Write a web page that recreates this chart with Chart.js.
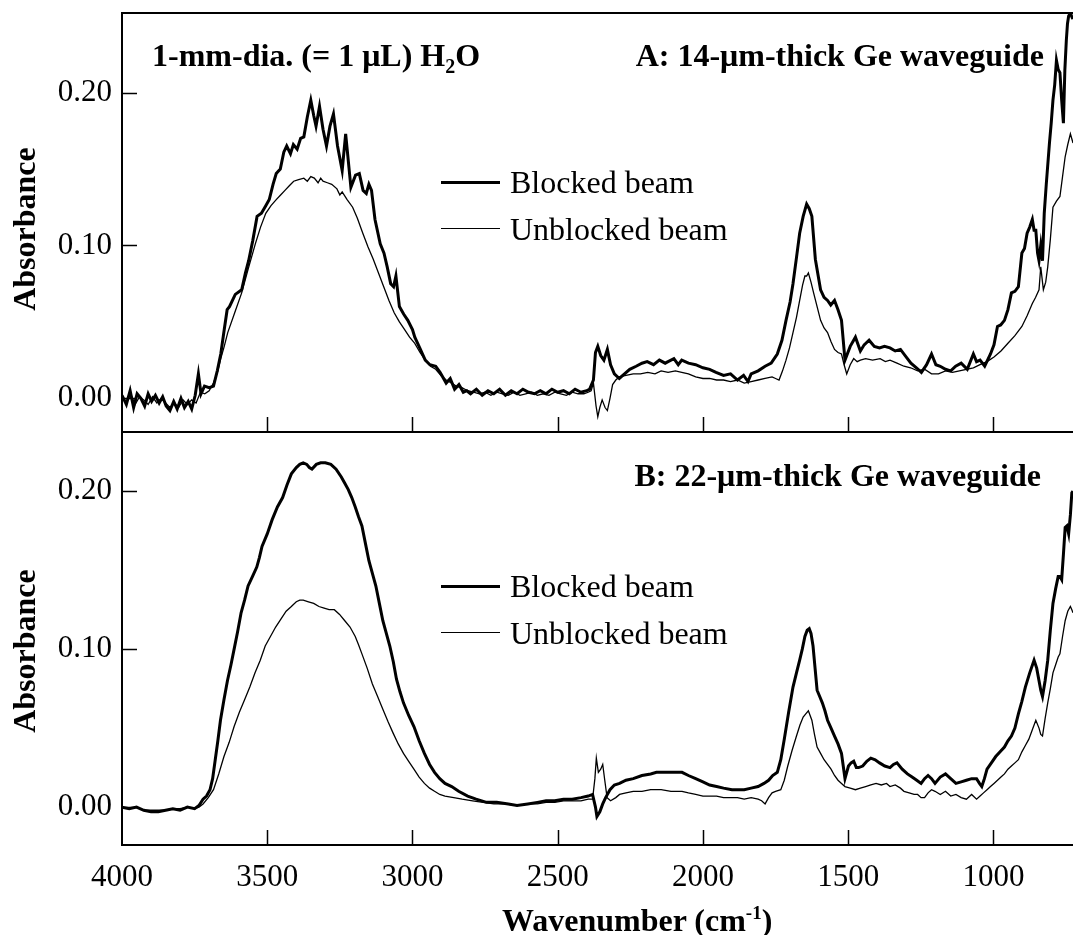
<!DOCTYPE html>
<html>
<head>
<meta charset="utf-8">
<script src="https://cdn.jsdelivr.net/npm/chart.js@4.4.0/dist/chart.umd.min.js"></script>
<style>
  body { margin: 0; background: #fff; }
  #wrap { position: relative; width: 1073px; height: 935px; overflow: hidden; background: #fff;
          font-family: "Liberation Serif", "Times New Roman", serif; color: #000; }
  canvas { position: absolute; left: 0; }
  .txt { position: absolute; white-space: nowrap; line-height: 1; }
  .bold { font-weight: bold; }
  .ytitle { position: absolute; white-space: nowrap; line-height: 1; font-weight: bold; font-size: 32px;
            transform: translate(-50%, -50%) rotate(-90deg); }
  .leg { position: absolute; font-size: 32px; line-height: 1; white-space: nowrap; }
  .legline { position: absolute; background: #000; }
</style>
</head>
<body>
<div id="wrap">
  <canvas id="topChart" width="1073" height="440" style="top:0"></canvas>
  <canvas id="botChart" width="1073" height="515" style="top:420px"></canvas>

  <div class="ytitle" style="left:24px; top:229px">Absorbance</div>
  <div class="ytitle" style="left:24px; top:651px">Absorbance</div>

  <div class="txt bold" style="left:152px; top:39px; font-size:32px">1-mm-dia. (= 1 &mu;L) H<sub style="font-size:20px">2</sub>O</div>
  <div class="txt bold" style="right:29px; top:39px; font-size:32px">A: 14-&mu;m-thick Ge waveguide</div>
  <div class="txt bold" style="right:32px; top:459px; font-size:32px">B: 22-&mu;m-thick Ge waveguide</div>

  <div class="legline" style="left:441px; top:181px; width:59px; height:3px"></div>
  <div class="leg" style="left:510px; top:166px">Blocked beam</div>
  <div class="legline" style="left:441px; top:228px; width:59px; height:1.3px"></div>
  <div class="leg" style="left:510px; top:213px">Unblocked beam</div>

  <div class="legline" style="left:441px; top:585px; width:59px; height:3px"></div>
  <div class="leg" style="left:510px; top:570px">Blocked beam</div>
  <div class="legline" style="left:441px; top:632px; width:59px; height:1.3px"></div>
  <div class="leg" style="left:510px; top:617px">Unblocked beam</div>

  <div class="txt bold" style="left:502px; top:903px; font-size:32px">Wavenumber (cm<sup style="font-size:19px">-1</sup>)</div>
</div>

<script>
// x ticks (cm-1) and y ticks
const wnTicks = [4000, 3500, 3000, 2500, 2000, 1500, 1000];
const absTicks = [0, 0.1, 0.2];

// A: 14-um Ge waveguide, [wavenumber, absorbance]
const topBlocked = [
  [4000,0.002],[3985,-0.004],[3972,0.005],[3960,-0.006],[3948,0.003],[3935,0.000],[3922,-0.005],[3910,0.003],
  [3898,-0.002],[3885,0.002],[3872,-0.003],[3860,0.001],[3848,-0.005],[3835,-0.008],[3822,-0.002],[3810,-0.007],
  [3797,0.000],[3785,-0.006],[3772,-0.002],[3760,-0.007],[3748,0.002],[3737,0.016],[3728,0.003],[3716,0.008],
  [3700,0.007],[3685,0.008],[3672,0.018],[3660,0.029],[3648,0.045],[3638,0.058],[3630,0.060],[3610,0.068],
  [3588,0.071],[3575,0.082],[3564,0.090],[3550,0.103],[3535,0.119],[3520,0.121],[3505,0.126],[3493,0.130],
  [3480,0.140],[3469,0.147],[3455,0.150],[3443,0.161],[3433,0.165],[3420,0.160],[3410,0.166],[3397,0.163],
  [3385,0.170],[3374,0.171],[3362,0.184],[3350,0.195],[3340,0.185],[3332,0.178],[3320,0.191],[3308,0.176],
  [3296,0.165],[3284,0.178],[3272,0.186],[3258,0.165],[3242,0.149],[3230,0.173],[3212,0.138],[3196,0.146],
  [3183,0.147],[3170,0.136],[3159,0.134],[3150,0.140],[3141,0.136],[3129,0.117],[3111,0.101],[3098,0.095],
  [3087,0.086],[3075,0.075],[3065,0.073],[3057,0.080],[3045,0.060],[3030,0.055],[3016,0.051],[3000,0.045],
  [2992,0.040],[2975,0.033],[2956,0.025],[2940,0.022],[2920,0.021],[2905,0.017],[2884,0.010],[2870,0.013],
  [2855,0.006],[2840,0.009],[2825,0.004],[2813,0.005],[2800,0.003],[2780,0.006],[2760,0.002],[2740,0.005],
  [2720,0.003],[2700,0.006],[2680,0.002],[2660,0.005],[2640,0.003],[2620,0.006],[2600,0.004],[2580,0.003],
  [2560,0.005],[2540,0.003],[2520,0.006],[2500,0.004],[2480,0.005],[2460,0.003],[2440,0.006],[2420,0.004],
  [2400,0.005],[2390,0.006],[2377,0.012],[2370,0.030],[2362,0.034],[2352,0.028],[2341,0.025],[2329,0.032],
  [2318,0.022],[2305,0.016],[2288,0.013],[2270,0.016],[2252,0.019],[2230,0.021],[2210,0.023],[2192,0.024],
  [2170,0.022],[2150,0.025],[2130,0.023],[2120,0.024],[2100,0.026],[2085,0.022],[2073,0.025],[2050,0.023],
  [2025,0.022],[2000,0.020],[1977,0.019],[1955,0.017],[1929,0.015],[1905,0.016],[1881,0.012],[1860,0.015],
  [1845,0.011],[1834,0.016],[1810,0.018],[1786,0.021],[1765,0.023],[1744,0.029],[1728,0.038],[1714,0.051],
  [1700,0.063],[1690,0.075],[1678,0.092],[1667,0.108],[1655,0.119],[1643,0.127],[1634,0.124],[1625,0.119],
  [1613,0.091],[1595,0.071],[1583,0.066],[1571,0.064],[1560,0.061],[1547,0.064],[1535,0.058],[1523,0.051],
  [1511,0.025],[1493,0.034],[1475,0.040],[1458,0.031],[1445,0.035],[1428,0.038],[1410,0.034],[1392,0.033],
  [1375,0.034],[1356,0.033],[1338,0.031],[1320,0.032],[1300,0.027],[1284,0.023],[1265,0.020],[1248,0.017],
  [1230,0.022],[1213,0.029],[1198,0.022],[1183,0.021],[1165,0.019],[1147,0.018],[1130,0.021],[1111,0.023],
  [1090,0.019],[1069,0.029],[1058,0.024],[1046,0.025],[1030,0.021],[1010,0.029],[998,0.035],[986,0.047],
  [975,0.048],[962,0.051],[950,0.058],[938,0.069],[926,0.070],[914,0.073],[902,0.095],[893,0.098],
  [884,0.108],[875,0.112],[866,0.117],[860,0.110],[854,0.110],[848,0.095],[843,0.090],[837,0.100],
  [831,0.090],[825,0.121],[818,0.140],[807,0.167],[801,0.180],[795,0.195],[789,0.205],[783,0.221],
  [777,0.215],[771,0.213],[765,0.195],[759,0.180],[754,0.215],[749,0.234],[745,0.245],[741,0.250],
  [735,0.252],[729,0.249],[726,0.248]
];

const topUnblocked = [
  [4000,0.001],[3985,-0.003],[3970,0.003],[3955,-0.004],[3940,0.001],[3925,-0.001],[3910,-0.004],[3895,0.001],
  [3880,-0.003],[3865,0.000],[3850,-0.003],[3835,-0.006],[3820,-0.003],[3805,-0.006],[3790,-0.001],[3775,-0.004],
  [3760,-0.001],[3745,-0.003],[3730,0.004],[3715,0.003],[3700,0.005],[3685,0.010],[3670,0.018],[3660,0.026],
  [3648,0.034],[3636,0.043],[3612,0.056],[3588,0.069],[3565,0.085],[3541,0.101],[3523,0.112],[3505,0.121],
  [3487,0.126],[3469,0.130],[3454,0.133],[3439,0.136],[3424,0.139],[3409,0.142],[3392,0.143],[3374,0.144],
  [3362,0.142],[3350,0.145],[3338,0.144],[3325,0.141],[3316,0.144],[3308,0.142],[3293,0.141],[3278,0.140],
  [3260,0.137],[3250,0.133],[3242,0.135],[3225,0.130],[3206,0.125],[3190,0.118],[3171,0.108],[3153,0.099],
  [3135,0.091],[3117,0.082],[3099,0.073],[3081,0.064],[3063,0.056],[3045,0.050],[3027,0.045],[3010,0.040],
  [2992,0.036],[2974,0.030],[2956,0.025],[2938,0.021],[2920,0.019],[2902,0.015],[2884,0.012],[2865,0.010],
  [2850,0.008],[2830,0.007],[2810,0.005],[2790,0.004],[2770,0.003],[2750,0.004],[2730,0.002],[2710,0.004],
  [2690,0.003],[2670,0.002],[2650,0.004],[2630,0.002],[2610,0.003],[2590,0.004],[2570,0.002],[2550,0.003],
  [2530,0.002],[2510,0.004],[2490,0.003],[2470,0.002],[2450,0.004],[2430,0.003],[2410,0.003],[2395,0.004],
  [2385,0.005],[2377,0.010],[2368,-0.005],[2362,-0.012],[2355,-0.006],[2347,-0.001],[2337,-0.006],[2329,-0.008],
  [2320,0.000],[2311,0.009],[2300,0.012],[2288,0.014],[2265,0.015],[2240,0.016],[2215,0.016],[2190,0.017],
  [2165,0.016],[2144,0.018],[2120,0.017],[2095,0.018],[2073,0.017],[2050,0.016],[2025,0.014],[2000,0.013],
  [1977,0.013],[1953,0.012],[1929,0.012],[1905,0.011],[1881,0.012],[1858,0.010],[1834,0.011],[1810,0.012],
  [1786,0.013],[1762,0.014],[1750,0.013],[1738,0.012],[1726,0.018],[1714,0.025],[1702,0.033],[1690,0.043],
  [1678,0.053],[1667,0.064],[1657,0.074],[1649,0.080],[1643,0.080],[1637,0.082],[1628,0.076],[1619,0.069],
  [1607,0.060],[1595,0.051],[1583,0.046],[1571,0.043],[1559,0.037],[1547,0.032],[1535,0.030],[1523,0.029],
  [1514,0.022],[1505,0.016],[1493,0.022],[1481,0.026],[1469,0.024],[1458,0.025],[1440,0.026],[1416,0.025],
  [1390,0.026],[1372,0.024],[1356,0.025],[1332,0.023],[1308,0.021],[1285,0.020],[1261,0.018],[1237,0.019],
  [1213,0.016],[1189,0.016],[1165,0.018],[1141,0.017],[1117,0.018],[1093,0.019],[1069,0.020],[1046,0.022],
  [1022,0.024],[998,0.027],[974,0.031],[950,0.036],[926,0.041],[902,0.047],[884,0.054],[866,0.062],
  [855,0.066],[843,0.071],[837,0.086],[828,0.071],[820,0.076],[813,0.086],[804,0.104],[795,0.125],
  [783,0.129],[771,0.132],[762,0.145],[753,0.158],[744,0.166],[735,0.173],[726,0.167]
];

// B: 22-um Ge waveguide
const botBlocked = [
  [4000,0.000],[3975,-0.001],[3950,0.000],[3925,-0.002],[3900,-0.003],[3875,-0.003],[3850,-0.002],[3825,-0.001],
  [3800,-0.002],[3775,0.000],[3750,-0.001],[3735,0.001],[3721,0.005],[3709,0.007],[3697,0.011],[3688,0.018],
  [3679,0.030],[3670,0.042],[3661,0.055],[3649,0.068],[3637,0.080],[3625,0.090],[3614,0.100],[3602,0.111],
  [3590,0.123],[3578,0.131],[3566,0.140],[3551,0.146],[3536,0.152],[3527,0.158],[3518,0.165],[3500,0.173],
  [3483,0.182],[3465,0.190],[3447,0.196],[3432,0.204],[3417,0.211],[3400,0.215],[3388,0.217],[3376,0.218],
  [3364,0.217],[3355,0.215],[3346,0.214],[3331,0.217],[3316,0.218],[3300,0.218],[3281,0.217],[3263,0.214],
  [3245,0.209],[3233,0.205],[3221,0.201],[3209,0.196],[3197,0.190],[3186,0.184],[3174,0.178],[3162,0.167],
  [3150,0.156],[3138,0.148],[3126,0.140],[3114,0.129],[3102,0.118],[3090,0.110],[3078,0.102],[3066,0.092],
  [3055,0.081],[3043,0.073],[3031,0.066],[3013,0.058],[2995,0.051],[2977,0.042],[2959,0.034],[2941,0.027],
  [2924,0.022],[2906,0.018],[2888,0.015],[2865,0.013],[2841,0.010],[2810,0.007],[2781,0.005],[2745,0.003],
  [2710,0.003],[2670,0.002],[2640,0.001],[2603,0.002],[2570,0.003],[2540,0.004],[2510,0.004],[2480,0.005],
  [2450,0.005],[2420,0.006],[2395,0.007],[2380,0.008],[2370,0.000],[2365,-0.006],[2355,-0.003],[2345,0.002],
  [2335,0.006],[2320,0.011],[2305,0.014],[2287,0.015],[2265,0.017],[2240,0.018],[2210,0.020],[2180,0.021],
  [2160,0.022],[2144,0.022],[2110,0.022],[2072,0.022],[2050,0.020],[2025,0.018],[2000,0.016],[1977,0.014],
  [1953,0.013],[1929,0.012],[1900,0.011],[1880,0.011],[1858,0.011],[1834,0.012],[1810,0.013],[1790,0.015],
  [1774,0.017],[1760,0.020],[1744,0.022],[1732,0.030],[1720,0.043],[1705,0.060],[1690,0.076],[1678,0.085],
  [1667,0.093],[1658,0.100],[1649,0.108],[1641,0.112],[1634,0.113],[1628,0.110],[1621,0.102],[1614,0.088],
  [1607,0.074],[1598,0.070],[1589,0.066],[1580,0.061],[1571,0.055],[1559,0.050],[1547,0.045],[1535,0.040],
  [1523,0.034],[1517,0.026],[1511,0.018],[1505,0.022],[1499,0.026],[1490,0.028],[1481,0.029],[1472,0.025],
  [1464,0.025],[1450,0.026],[1436,0.029],[1422,0.031],[1407,0.030],[1392,0.028],[1374,0.026],[1356,0.025],
  [1344,0.027],[1332,0.028],[1314,0.024],[1296,0.021],[1280,0.019],[1264,0.017],[1249,0.015],[1237,0.018],
  [1225,0.020],[1213,0.018],[1201,0.015],[1183,0.019],[1165,0.021],[1147,0.018],[1129,0.015],[1111,0.016],
  [1093,0.017],[1075,0.018],[1058,0.018],[1048,0.015],[1040,0.013],[1031,0.018],[1022,0.024],[1007,0.028],
  [992,0.032],[977,0.035],[962,0.038],[950,0.042],[938,0.045],[926,0.050],[914,0.059],[902,0.067],
  [890,0.076],[875,0.085],[860,0.093],[851,0.088],[843,0.080],[837,0.074],[831,0.070],[822,0.080],
  [813,0.093],[804,0.112],[795,0.129],[786,0.138],[777,0.146],[771,0.146],[765,0.144],[759,0.160],
  [753,0.177],[747,0.178],[741,0.173],[735,0.185],[730,0.199],[726,0.200]
];

const botUnblocked = [
  [4000,0.000],[3975,-0.001],[3950,0.000],[3925,-0.002],[3900,-0.002],[3875,-0.002],[3850,-0.002],[3825,-0.001],
  [3800,-0.001],[3775,0.000],[3750,-0.001],[3735,0.000],[3721,0.002],[3703,0.006],[3685,0.011],[3667,0.021],
  [3649,0.032],[3631,0.041],[3614,0.051],[3596,0.060],[3578,0.068],[3560,0.076],[3542,0.085],[3524,0.093],
  [3507,0.102],[3489,0.108],[3471,0.114],[3453,0.119],[3435,0.124],[3417,0.127],[3400,0.130],[3388,0.131],
  [3376,0.131],[3358,0.130],[3340,0.129],[3322,0.127],[3304,0.126],[3287,0.125],[3269,0.125],[3251,0.122],
  [3233,0.118],[3215,0.114],[3197,0.108],[3186,0.103],[3174,0.097],[3156,0.088],[3138,0.078],[3120,0.070],
  [3102,0.062],[3084,0.054],[3067,0.047],[3049,0.040],[3031,0.034],[3013,0.029],[2995,0.024],[2977,0.019],
  [2959,0.015],[2941,0.012],[2924,0.010],[2906,0.008],[2888,0.007],[2858,0.006],[2829,0.005],[2793,0.004],
  [2757,0.003],[2720,0.002],[2680,0.002],[2640,0.001],[2603,0.002],[2570,0.002],[2540,0.003],[2510,0.003],
  [2480,0.004],[2450,0.004],[2420,0.004],[2395,0.005],[2380,0.005],[2372,0.018],[2367,0.031],[2360,0.022],
  [2352,0.024],[2345,0.027],[2338,0.017],[2330,0.006],[2318,0.004],[2300,0.006],[2287,0.008],[2265,0.009],
  [2240,0.010],[2210,0.010],[2180,0.011],[2144,0.011],[2110,0.010],[2072,0.010],[2050,0.009],[2025,0.008],
  [2000,0.007],[1977,0.007],[1953,0.007],[1929,0.006],[1905,0.006],[1881,0.006],[1858,0.005],[1834,0.006],
  [1810,0.005],[1798,0.004],[1786,0.002],[1774,0.006],[1762,0.009],[1750,0.010],[1732,0.011],[1720,0.017],
  [1708,0.026],[1693,0.036],[1678,0.045],[1666,0.052],[1655,0.057],[1646,0.059],[1637,0.061],[1631,0.058],
  [1625,0.055],[1616,0.046],[1607,0.038],[1595,0.034],[1583,0.030],[1571,0.027],[1559,0.024],[1547,0.020],
  [1535,0.017],[1523,0.015],[1511,0.013],[1493,0.012],[1475,0.011],[1458,0.012],[1440,0.013],[1422,0.014],
  [1404,0.015],[1386,0.014],[1368,0.015],[1356,0.013],[1338,0.014],[1320,0.012],[1308,0.010],[1290,0.009],
  [1273,0.008],[1261,0.008],[1249,0.006],[1237,0.006],[1225,0.009],[1213,0.011],[1201,0.010],[1183,0.008],
  [1165,0.010],[1147,0.007],[1129,0.008],[1111,0.006],[1093,0.005],[1075,0.008],[1058,0.005],[1046,0.007],
  [1034,0.009],[1022,0.011],[1010,0.013],[998,0.015],[986,0.017],[974,0.019],[962,0.021],[950,0.024],
  [938,0.026],[926,0.028],[914,0.030],[902,0.035],[890,0.039],[878,0.043],[866,0.049],[854,0.055],
  [843,0.050],[837,0.046],[831,0.045],[822,0.056],[813,0.066],[804,0.075],[795,0.085],[786,0.090],
  [777,0.095],[771,0.097],[762,0.108],[753,0.118],[744,0.124],[735,0.127],[730,0.125],[726,0.123]
];

const serif = "'Liberation Serif', 'Times New Roman', serif";

// frame on left/top/bottom + short inward ticks, like the original plot
const framePlugin = {
  id: 'frame',
  afterDatasetsDraw(chart) {
    const { ctx, chartArea: a, scales } = chart;
    ctx.save();
    ctx.strokeStyle = '#000';
    ctx.lineWidth = 2;
    ctx.beginPath();
    ctx.moveTo(chart.width + 2, a.top); ctx.lineTo(a.left, a.top);
    ctx.lineTo(a.left, a.bottom); ctx.lineTo(chart.width + 2, a.bottom);
    ctx.stroke();
    ctx.lineWidth = 1.5;
    ctx.beginPath();
    wnTicks.forEach(v => {
      if (v >= 4000) return;
      const px = Math.round(scales.x.getPixelForValue(v)) + 0.5;
      ctx.moveTo(px, a.bottom); ctx.lineTo(px, a.bottom - 15);
    });
    absTicks.forEach(v => {
      const py = Math.round(scales.y.getPixelForValue(v)) + 0.5;
      ctx.moveTo(a.left, py); ctx.lineTo(a.left + 15, py);
    });
    ctx.stroke();
    ctx.restore();
  }
};

function toPoints(arr) {
  return arr.map(p => ({ x: p[0], y: p[1] }));
}

function makeChart(id, blocked, unblocked, ymin, ymax, showX) {
  return new Chart(document.getElementById(id), {
    type: 'line',
    data: {
      datasets: [
        { label: 'Blocked beam', data: toPoints(blocked), borderColor: '#000', borderWidth: 3,
          pointRadius: 0, tension: 0, fill: false },
        { label: 'Unblocked beam', data: toPoints(unblocked), borderColor: '#000', borderWidth: 1.3,
          pointRadius: 0, tension: 0, fill: false }
      ]
    },
    options: {
      responsive: false,
      animation: false,
      layout: { padding: showX ? { top: 12, right: 0, bottom: 0, left: 0 } : { top: 13, right: 0, bottom: 8, left: 0 } },
      plugins: { legend: { display: false }, tooltip: { enabled: false } },
      scales: {
        x: {
          type: 'linear',
          reverse: true,
          min: 726,
          max: 4000,
          display: showX,
          grid: { display: false, drawTicks: false },
          border: { display: false },
          afterBuildTicks: s => { s.ticks = wnTicks.map(v => ({ value: v })); },
          afterFit: s => {
            s.height = showX ? 90 : 0;
            s.paddingLeft = 0; s.paddingRight = 0;
          },
          ticks: {
            autoSkip: false, maxRotation: 0, padding: 14, color: '#000',
            font: { family: serif, size: 31 },
            callback: v => String(v)
          }
        },
        y: {
          min: ymin,
          max: ymax,
          grid: { display: false, drawTicks: false },
          border: { display: false },
          afterBuildTicks: s => { s.ticks = absTicks.map(v => ({ value: v })); },
          afterFit: s => {
            s.width = 122;
            s.paddingTop = 0; s.paddingBottom = 0;
          },
          ticks: {
            padding: 10, color: '#000',
            font: { family: serif, size: 31 },
            callback: v => v.toFixed(2)
          }
        }
      }
    },
    plugins: [framePlugin]
  });
}

makeChart('topChart', topBlocked, topUnblocked, -0.022, 0.252, false);
makeChart('botChart', botBlocked, botUnblocked, -0.024, 0.2375, true);
</script>
</body>
</html>
